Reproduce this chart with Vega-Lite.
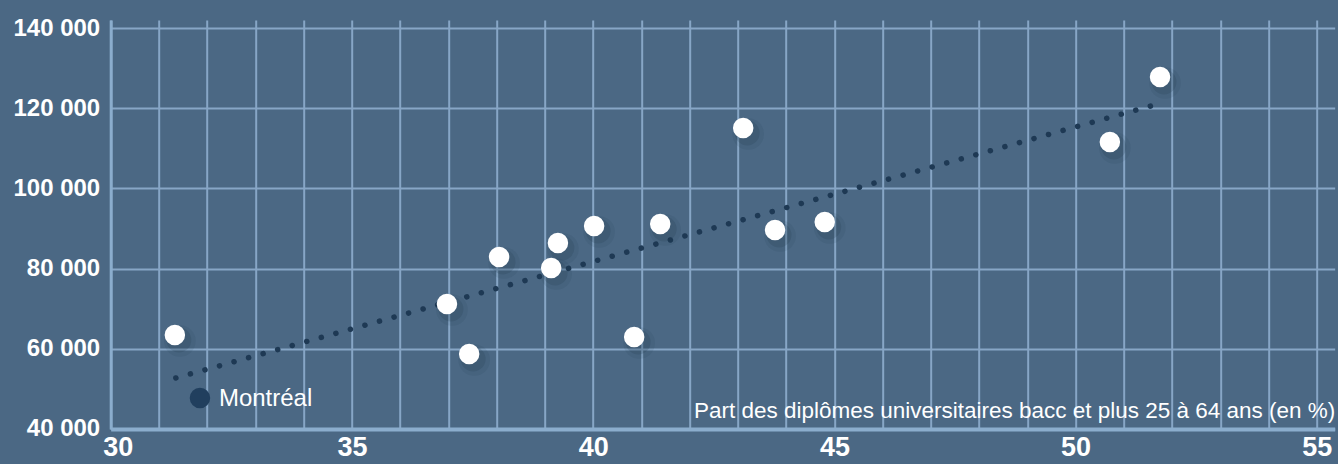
{
  "$schema": "https://vega.github.io/schema/vega-lite/v6.json",
  "width": 1224,
  "height": 409,
  "autosize": "none",
  "padding": {"left": 110.7, "top": 20, "right": 3, "bottom": 35},
  "background": "#4b6884",
  "config": {
    "view": {"stroke": null},
    "font": "Liberation Sans"
  },
  "datasets": {
    "points": [
      {"diplomes": 31.33, "revenu": 63440},
      {"diplomes": 36.97, "revenu": 71175},
      {"diplomes": 37.43, "revenu": 58700},
      {"diplomes": 38.05, "revenu": 82900},
      {"diplomes": 39.13, "revenu": 80150},
      {"diplomes": 39.27, "revenu": 86400},
      {"diplomes": 40.02, "revenu": 90630},
      {"diplomes": 40.85, "revenu": 62950},
      {"diplomes": 41.39, "revenu": 91130},
      {"diplomes": 43.11, "revenu": 115070},
      {"diplomes": 43.77, "revenu": 89630},
      {"diplomes": 44.80, "revenu": 91630},
      {"diplomes": 50.71, "revenu": 111580},
      {"diplomes": 51.75, "revenu": 127790}
    ],
    "montreal": [
      {"diplomes": 31.85, "revenu": 47730, "ville": "Montréal"}
    ],
    "tendance": [
      {"diplomes": 31.35, "revenu": 52720},
      {"diplomes": 51.6, "revenu": 120700}
    ]
  },
  "layer": [
    {
      "data": {"name": "tendance"},
      "mark": {"type": "line", "color": "#1e3954", "strokeWidth": 5.5, "strokeCap": "round", "strokeDash": [0.1, 15]},
      "encoding": {
        "x": {
          "field": "diplomes", "type": "quantitative",
          "scale": {"domain": [30, 55.37], "nice": false, "zero": false},
          "axis": {
            "values": [30,31,32,33,34,35,36,37,38,39,40,41,42,43,44,45,46,47,48,49,50,51,52,53,54,55],
            "labelExpr": "datum.value % 5 === 0 ? datum.label : ''",
            "labelOverlap": false,
            "labelFlush": true, "labelFlushOffset": 8,
            "grid": true, "gridColor": "#87a6c6", "gridWidth": 2,
            "ticks": false,
            "domain": true, "domainColor": "#8badcd", "domainWidth": 4,
            "labelFont": "Liberation Sans", "labelFontWeight": "bold", "labelFontSize": 27, "labelColor": "#ffffff",
            "labelPadding": 6,
            "title": "Part des diplômes universitaires bacc et plus 25 à 64 ans (en %)",
            "titleFont": "Liberation Sans", "titleFontWeight": "normal", "titleFontSize": 22.5, "titleColor": "#ffffff",
            "titleAnchor": "end", "titleAlign": "right", "titleBaseline": "alphabetic",
            "titleX": 1224, "titleY": -11
          }
        },
        "y": {
          "field": "revenu", "type": "quantitative",
          "scale": {"domain": [40000, 142000], "nice": false, "zero": false},
          "axis": {
            "values": [40000, 60000, 80000, 100000, 120000, 140000],
            "labelExpr": "replace(format(datum.value, ','), ',', ' ')",
            "grid": true, "gridColor": "#87a6c6", "gridWidth": 2,
            "ticks": false,
            "domain": true, "domainColor": "#8badcd", "domainWidth": 3,
            "labelFont": "Liberation Sans", "labelFontWeight": "bold", "labelFontSize": 24, "labelColor": "#ffffff",
            "labelPadding": 11,
            "title": null
          }
        }
      }
    },
    {
      "data": {"name": "points"},
      "mark": {"type": "circle", "color": "#223a52", "opacity": 0.1, "size": 1000, "xOffset": 5, "yOffset": 6},
      "encoding": {
        "x": {"field": "diplomes", "type": "quantitative"},
        "y": {"field": "revenu", "type": "quantitative"}
      }
    },
    {
      "data": {"name": "points"},
      "mark": {"type": "circle", "color": "#223a52", "opacity": 0.2, "size": 620, "xOffset": 4, "yOffset": 5},
      "encoding": {
        "x": {"field": "diplomes", "type": "quantitative"},
        "y": {"field": "revenu", "type": "quantitative"}
      }
    },
    {
      "data": {"name": "points"},
      "mark": {"type": "circle", "color": "#ffffff", "opacity": 1, "size": 420},
      "encoding": {
        "x": {"field": "diplomes", "type": "quantitative"},
        "y": {"field": "revenu", "type": "quantitative"}
      }
    },
    {
      "data": {"name": "montreal"},
      "mark": {"type": "circle", "color": "#213f5e", "opacity": 1, "size": 420},
      "encoding": {
        "x": {"field": "diplomes", "type": "quantitative"},
        "y": {"field": "revenu", "type": "quantitative"}
      }
    },
    {
      "data": {"name": "montreal"},
      "mark": {"type": "text", "color": "#ffffff", "font": "Liberation Sans", "fontSize": 24, "align": "left", "baseline": "middle", "dx": 19, "dy": 1},
      "encoding": {
        "x": {"field": "diplomes", "type": "quantitative"},
        "y": {"field": "revenu", "type": "quantitative"},
        "text": {"field": "ville"}
      }
    }
  ]
}
